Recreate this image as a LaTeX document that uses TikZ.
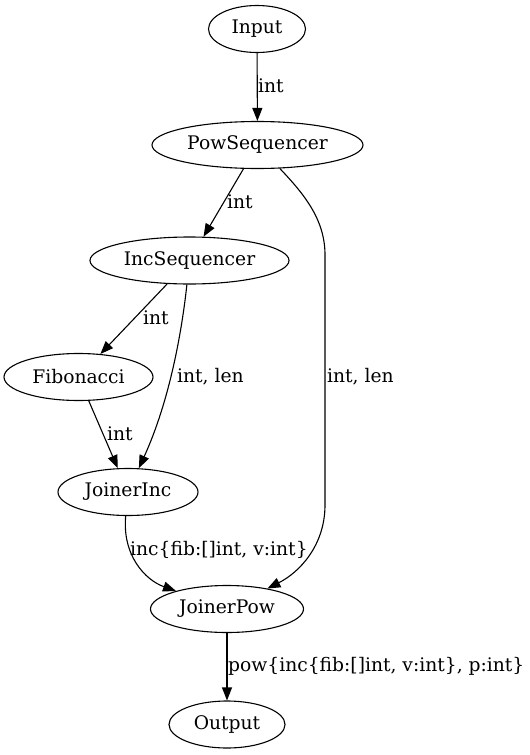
\documentclass[tikz,border=0pt]{standalone}
\usepackage{fontspec}
\setmainfont{DejaVu Serif}
\usepackage{tikz}
\usetikzlibrary{shapes,arrows.meta}
\tikzstyle{stage} = [ellipse, draw, line width=1.1pt, inner sep=0pt,
    minimum height=47pt, font=\fontsize{18.7}{20}\selectfont]
\tikzstyle{line} = [draw, line width=1.1pt, -{Triangle[length=13pt,width=10pt]}]
\tikzstyle{lbl} = [anchor=west, inner sep=0pt, font=\fontsize{18.7}{20}\selectfont]

\begin{document}
\begin{tikzpicture}[x=1pt,y=-1pt]
    \useasboundingbox (0,0) rectangle (530,755);
    \node [stage, minimum width=97pt] (input) at (257,29) {Input};
    \node [stage, minimum width=211pt] (powseq) at (257.5,145) {PowSequencer};
    \node [stage, minimum width=199pt] (incseq) at (189.5,260.5) {IncSequencer};
    \node [stage, minimum width=149pt] (fib) at (78.5,377) {Fibonacci};
    \node [stage, minimum width=140pt] (joininc) at (128,492) {JoinerInc};
    \node [stage, minimum width=153pt] (joinpow) at (227,609) {JoinerPow};
    \node [stage, minimum width=116pt] (output) at (227,724.5) {Output};
    % Draw edges
    \path[line] (input) -- (powseq);
    \path[line] (powseq) -- (incseq);
    \path[line] (powseq) .. controls (305,195) and (325,220) .. (325,255)
        -- (325,505) .. controls (325,545) and (300,572) .. (joinpow);
    \path[line] (incseq) -- (fib);
    \path[line] (incseq) .. controls (182,330) and (170,400) .. (joininc);
    \path[line] (fib) -- (joininc);
    \path[line] (joininc) .. controls (122,555) and (145,580) .. (joinpow);
    \path[line] (joinpow) -- (output);
    % Edge labels
    \node [lbl] (l1) at (258,86) {int};
    \node [lbl] (l2) at (227,202) {int};
    \node [lbl] (l3) at (327,377) {int, len};
    \node [lbl] (l4) at (143,318) {int};
    \node [lbl] (l5) at (177,377) {int, len};
    \node [lbl] (l6) at (107,434) {int};
    \node [lbl] (l7) at (130,550) {inc\{fib:[]int, v:int\}};
    \node [lbl] (l8) at (228,666) {pow\{inc\{fib:[]int, v:int\}, p:int\}};
\end{tikzpicture}
\end{document}
